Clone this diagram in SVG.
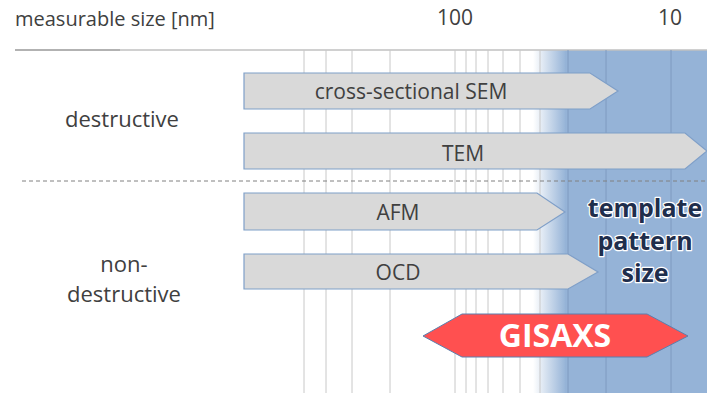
<svg xmlns="http://www.w3.org/2000/svg" width="707" height="393" viewBox="0 0 707 393">
<defs>
<linearGradient id="fade" x1="0" y1="0" x2="1" y2="0">
<stop offset="0" stop-color="#95b3d7" stop-opacity="0"/>
<stop offset="1" stop-color="#95b3d7" stop-opacity="1"/>
</linearGradient>
<style>
.t{font-family:"Open Sans","Liberation Sans",sans-serif;fill:#404040}
.grid line{stroke:#c8c8c8;stroke-width:1}
.grid line.b{stroke:#7f9ac0}
.arr{fill:#d9d9d9;stroke:#7f9fc8;stroke-width:1.2}
.lbl{font-size:21px;text-anchor:middle}
.side{font-size:22px;text-anchor:middle}
.tps{font-family:"Open Sans","Liberation Sans",sans-serif;font-weight:bold;font-size:25px;fill:#1f2e4c;stroke:#ffffff;stroke-width:2.5;paint-order:stroke;stroke-linejoin:round;text-anchor:middle}
</style>
</defs>
<rect width="707" height="393" fill="#ffffff"/>
<rect x="533" y="50" width="33" height="343" fill="url(#fade)"/>
<rect x="565" y="50" width="142" height="343" fill="#95b3d7"/>
<line x1="15" y1="50" x2="707" y2="50" stroke="#c0c0c0" stroke-width="1.5"/>
<line x1="15" y1="50" x2="120" y2="50" stroke="#a8a8a8" stroke-width="1.5"/>
<g class="grid">
<line x1="304" y1="50" x2="304" y2="393"/>
<line x1="326" y1="50" x2="326" y2="393"/>
<line x1="352" y1="50" x2="352" y2="393"/>
<line x1="390" y1="50" x2="390" y2="393"/>
<line x1="455" y1="50" x2="455" y2="393"/>
<line x1="466" y1="50" x2="466" y2="393"/>
<line x1="476" y1="50" x2="476" y2="393"/>
<line x1="488" y1="50" x2="488" y2="393"/>
<line x1="503" y1="50" x2="503" y2="393"/>
<line x1="520" y1="50" x2="520" y2="393"/>
<line x1="540" y1="50" x2="540" y2="393"/>
<line class="b" x1="568" y1="50" x2="568" y2="393"/>
<line class="b" x1="606" y1="50" x2="606" y2="393"/>
<line class="b" x1="671" y1="50" x2="671" y2="393"/>
</g>
<line x1="22" y1="181" x2="707" y2="181" stroke="#808080" stroke-width="1" stroke-dasharray="4 3"/>
<text class="t" x="15" y="26" font-size="20">measurable size [nm]</text>
<text class="t" x="455" y="25" font-size="21" text-anchor="middle">100</text>
<text class="t" x="670" y="25" font-size="21" text-anchor="middle">10</text>
<text class="t side" x="122" y="127">destructive</text>
<text class="t side" x="124" y="272">non-</text>
<text class="t side" x="124" y="302">destructive</text>
<g id="connectors"></g>
<g id="sem">
<polygon class="arr" points="244,73 590,73 618,91 590,109 244,109"/>
<text class="t lbl" x="411" y="99">cross-sectional SEM</text>
</g>
<g id="tem">
<polygon class="arr" points="244,133 685,133 707,151 685,169 244,169"/>
<text class="t lbl" x="463" y="161">TEM</text>
</g>
<g id="afm">
<polygon class="arr" points="244,193 537,193 565,212 537,230 244,230"/>
<text class="t lbl" x="398" y="220">AFM</text>
</g>
<g id="ocd">
<polygon class="arr" points="244,254 568,254 598,272 568,289 244,289"/>
<text class="t lbl" x="398" y="280">OCD</text>
</g>
<g id="template">
<text class="tps" x="645" y="217">template</text>
<text class="tps" x="645" y="250">pattern</text>
<text class="tps" x="645" y="282">size</text>
</g>
<g id="gisaxs">
<polygon points="423,336 462,314 647,314 688,336 647,357 462,357" fill="#ff5050" stroke="#5b7fae" stroke-width="1"/>
<text x="555" y="347" font-family="'Open Sans','Liberation Sans',sans-serif" font-weight="bold" font-size="32" fill="#ffffff" text-anchor="middle">GISAXS</text>
</g>
</svg>
